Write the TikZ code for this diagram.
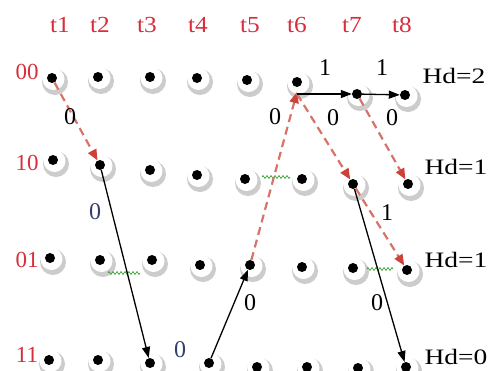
\documentclass[tikz,border=0pt]{standalone}
\usepackage{fontspec}
\setmainfont{Liberation Serif}
\usetikzlibrary{arrows.meta,decorations.pathmorphing}
\definecolor{tred}{RGB}{215,45,60}
\definecolor{dred}{RGB}{215,115,105}
\definecolor{hred}{RGB}{205,65,55}
\definecolor{wgreen}{RGB}{40,150,40}
\definecolor{lblue}{RGB}{50,65,105}
\tikzset{
  dotn/.style={circle, fill=black, inner sep=0pt, minimum size=10pt},
  ringsh/.style={fill=black!20},
  ringface/.style={fill=white},
  lbl/.style={font=\fontsize{22}{24}\selectfont, inner sep=0pt},
  elbl/.style={font=\fontsize{24}{26}\selectfont, inner sep=0pt},
  tlbl/.style={font=\fontsize{23}{25}\selectfont, inner sep=0pt, text=tred},
  solidarr/.style={draw=black, line width=1.3pt, -{Triangle[length=11pt,width=8pt]}},
  dasharr/.style={draw=dred, line width=2.2pt, dash pattern=on 8pt off 5pt, -{Triangle[length=11pt,width=9pt,color=hred]}},
  wave/.style={draw=wgreen, line width=0.6pt, decorate, decoration={zigzag, amplitude=1.5pt, segment length=4pt}}
}
\begin{document}
\begin{tikzpicture}[x=1pt,y=-1pt]
\useasboundingbox (0,0) rectangle (489,370);
% dots with shaded rings
\foreach \n/\x/\y in {a1/52/78, a2/98/77, a3/150/77, a4/197/78, a5/247/80, a6/297/82, a7/357/94, a8/405/95,
  b1/53/160, b2/100/165, b3/150/170, b4/197/175, b5/245/179, b6/302/179, b7/353/184, b8/408/184,
  c1/50/258, c2/100/260, c3/152/260, c4/200/265, c5/250/265, c6/302/267, c7/353/268, c8/407/270,
  d1/49/360, d2/98/360, d3/150/363, d4/209/363, d5/257/367, d6/307/367, d7/358/368, d8/406/367}{
  \fill[ringsh] (\x+3,\y+4) circle (13);
  \fill[ringface] (\x+1.5,\y+1) circle (11);
  \node[dotn] (\n) at (\x,\y) {};
}
% column labels
\foreach \t/\x in {1/60, 2/100, 3/147, 4/198, 5/250, 6/297, 7/352, 8/402}{
  \node[tlbl] (t\t) at (\x,25) {\scalebox{1.1}[1]{t\t}};
}
% row labels
\node[tlbl] (r00) at (27,72) {00};
\node[tlbl] (r10) at (27,163) {10};
\node[tlbl] (r01) at (27,260) {01};
\node[tlbl] (r11) at (27,355) {11};
% Hd labels
\node[lbl] (h1) at (454,76) {\scalebox{1.25}[1]{Hd=2}};
\node[lbl] (h2) at (456,167) {\scalebox{1.25}[1]{Hd=1}};
\node[lbl] (h3) at (456,260) {\scalebox{1.25}[1]{Hd=1}};
\node[lbl] (h4) at (456,357) {\scalebox{1.25}[1]{Hd=0}};
% green waves
\coordinate (w1a) at (262,177); \coordinate (w1b) at (290,177);
\coordinate (w2a) at (108,273); \coordinate (w2b) at (140,273);
\coordinate (w3a) at (367,269); \coordinate (w3b) at (393,269);
\draw[wave] (w1a) -- (w1b);
\draw[wave] (w2a) -- (w2b);
\draw[wave] (w3a) -- (w3b);
% connectors
\draw[dasharr] (a1) -- (b2);
\draw[solidarr] (b2) -- (d3);
\draw[solidarr] (d4) -- (c5);
\draw[dasharr] (c5) -- ([yshift=-10pt]a6.center);
\draw[dasharr] ([yshift=-12pt]a6.center) -- (b7);
\draw[dasharr] (a7) -- (b8);
\draw[dasharr] (b7) -- (c8);
\draw[solidarr] (b7) -- (d8);
\draw[solidarr] ([yshift=-12pt]a6.center) -- (a7);
\draw[solidarr] (a7) -- (a8);
% edge labels
\node[elbl] (e1) at (70,117) {0};
\node[elbl, text=lblue] (e2) at (95,212) {0};
\node[elbl, text=lblue] (e3) at (180,350) {0};
\node[elbl] (e4) at (250,303) {0};
\node[elbl] (e5) at (275,117) {0};
\node[elbl] (e6) at (333,118) {0};
\node[elbl] (e7) at (392,118) {0};
\node[elbl] (e8) at (387,213) {1};
\node[elbl] (e9) at (377,303) {0};
\node[elbl] (e10) at (325,68) {1};
\node[elbl] (e11) at (382,68) {1};
\end{tikzpicture}
\end{document}
